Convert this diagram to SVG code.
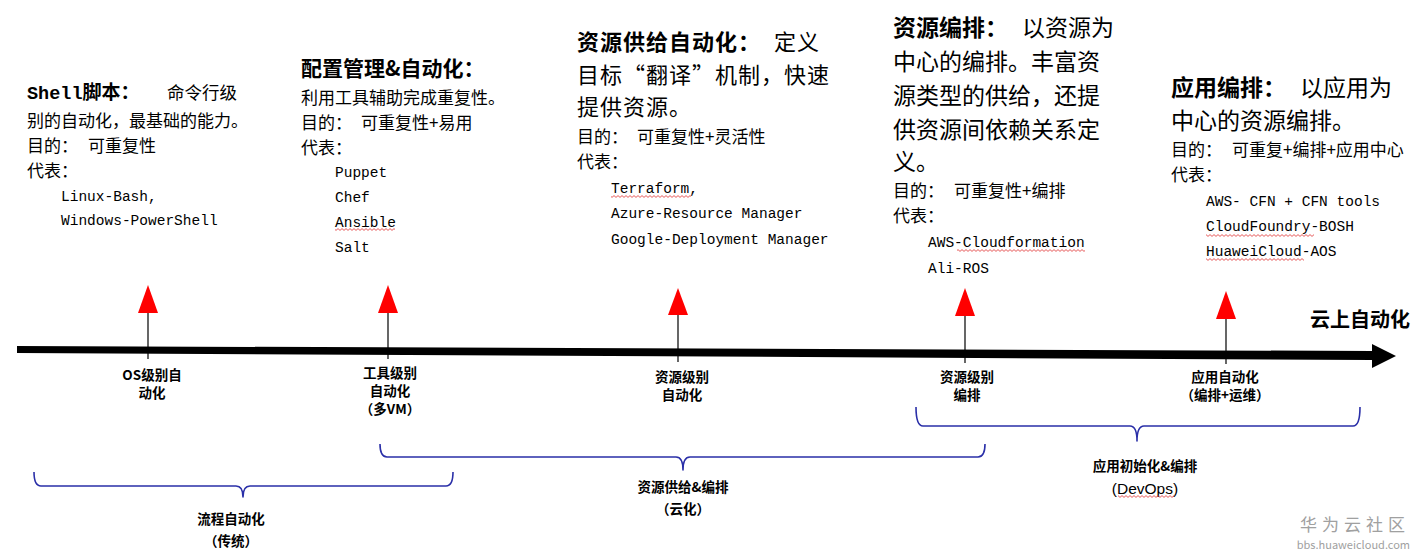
<svg xmlns="http://www.w3.org/2000/svg" width="1424" height="556" viewBox="0 0 1424 556">
<style>
.t{font-family:"Noto Sans CJK SC","Noto Sans",sans-serif;fill:#000}
.b{font-size:17px}
.big{font-size:23px}
.h{font-weight:bold}
.m{font-family:"Liberation Mono","DejaVu Sans Mono",monospace;font-size:14.5px;fill:#000}
.lab{font-family:"Noto Sans CJK SC","Noto Sans",sans-serif;font-size:13.5px;font-weight:bold;text-anchor:middle;fill:#000}
.stem{stroke:#000;stroke-width:1.2}
.tri{fill:#ff0000}
.brace{fill:none;stroke:#2a2fa8;stroke-width:1.6;stroke-linejoin:round}
.wm{font-family:"Noto Sans CJK SC","Noto Sans",sans-serif;fill:#a0a0a0;text-anchor:end}
</style>
<defs>
<pattern id="wave" patternUnits="userSpaceOnUse" width="4" height="3">
<path d="M0,2.4 L2,0.6 L4,2.4" fill="none" stroke="#e03030" stroke-width="0.8"/>
</pattern>
</defs>
<rect width="1424" height="556" fill="#fff"/>

<g id="timeline">
<polygon points="17,346 1372,351 1372,344 1396,356 1372,368 1372,360 17,353" fill="#000"/>
<text class="t h" x="1310" y="327" font-size="20">云上自动化</text>
</g>

<g id="connectors">
<line class="stem" x1="148" y1="312" x2="148" y2="359"/>
<polygon class="tri" points="148,285 138,313 158,313"/>
<line class="stem" x1="388" y1="312" x2="388" y2="359"/>
<polygon class="tri" points="388,285 378,313 398,313"/>
<line class="stem" x1="678" y1="314" x2="678" y2="362"/>
<polygon class="tri" points="678,288 668,315 688,315"/>
<line class="stem" x1="965" y1="315" x2="965" y2="363"/>
<polygon class="tri" points="965,288 955,316 975,316"/>
<line class="stem" x1="1226" y1="317" x2="1226" y2="364"/>
<polygon class="tri" points="1226,291 1216,319 1236,319"/>
</g>

<g id="stage1">
<text class="t h" x="27" y="99"><tspan font-family="Liberation Mono,monospace" font-size="18.5">Shell</tspan><tspan font-size="19">脚本：</tspan></text>
<text class="t" x="167" y="99" font-size="17.5">命令行级</text>
<text class="t b" x="27" y="127">别的自动化，最基础的能力。</text>
<text class="t b" x="27" y="152">目的：<tspan x="88">可重复性</tspan></text>
<text class="t b" x="27" y="177">代表：</text>
<text class="m" x="61" y="201">Linux-Bash,</text>
<text class="m" x="61" y="225">Windows-PowerShell</text>
<text class="lab" x="152" y="380">OS级别自</text>
<text class="lab" x="152" y="398">动化</text>
</g>

<g id="stage2">
<text class="t h" x="301" y="76" font-size="21">配置管理&amp;自动化：</text>
<text class="t b" x="301" y="104">利用工具辅助完成重复性。</text>
<text class="t b" x="301" y="129">目的：<tspan x="361">可重复性+易用</tspan></text>
<text class="t b" x="301" y="154">代表：</text>
<text class="m" x="335" y="177">Puppet</text>
<text class="m" x="335" y="202">Chef</text>
<text class="m" x="335" y="227">Ansible</text>
<text class="m" x="335" y="252">Salt</text>
<rect x="335" y="228" width="60" height="3" fill="url(#wave)"/>
<text class="lab" x="390" y="378">工具级别</text>
<text class="lab" x="390" y="396">自动化</text>
<text class="lab" x="390" y="414">（多VM）</text>
</g>

<g id="stage3">
<text class="t" x="577" y="50" font-size="22" letter-spacing="1"><tspan class="h">资源供给自动化：</tspan><tspan x="774">定义</tspan></text>
<text class="t" x="577" y="83" font-size="22" letter-spacing="1">目标“翻译”机制，快速</text>
<text class="t" x="577" y="115" font-size="22" letter-spacing="1">提供资源。</text>
<text class="t b" x="577" y="143">目的：<tspan x="637">可重复性+灵活性</tspan></text>
<text class="t b" x="577" y="168">代表：</text>
<text class="m" x="611" y="193">Terraform,</text>
<text class="m" x="611" y="218">Azure-Resource Manager</text>
<text class="m" x="611" y="244">Google-Deployment Manager</text>
<rect x="611" y="195" width="80" height="3" fill="url(#wave)"/>
<text class="lab" x="682" y="382">资源级别</text>
<text class="lab" x="682" y="400">自动化</text>
</g>

<g id="stage4">
<text class="t big" x="893" y="36"><tspan class="h">资源编排：</tspan><tspan x="1022">以资源为</tspan></text>
<text class="t big" x="893" y="70">中心的编排。丰富资</text>
<text class="t big" x="893" y="104">源类型的供给，还提</text>
<text class="t big" x="893" y="138">供资源间依赖关系定</text>
<text class="t big" x="893" y="170">义。</text>
<text class="t b" x="893" y="197">目的：<tspan x="954">可重复性+编排</tspan></text>
<text class="t b" x="893" y="222">代表：</text>
<text class="m" x="928" y="247">AWS-Cloudformation</text>
<text class="m" x="928" y="273">Ali-ROS</text>
<rect x="957" y="249" width="128" height="3" fill="url(#wave)"/>
<text class="lab" x="967" y="382">资源级别</text>
<text class="lab" x="967" y="400">编排</text>
</g>

<g id="stage5">
<text class="t big" x="1171" y="96"><tspan class="h">应用编排：</tspan><tspan x="1300">以应用为</tspan></text>
<text class="t big" x="1171" y="129">中心的资源编排。</text>
<text class="t b" x="1171" y="156">目的：<tspan x="1232">可重复+编排+应用中心</tspan></text>
<text class="t b" x="1171" y="181">代表：</text>
<text class="m" x="1206" y="206">AWS- CFN + CFN tools</text>
<text class="m" x="1206" y="231">CloudFoundry-BOSH</text>
<text class="m" x="1206" y="256">HuaweiCloud-AOS</text>
<rect x="1206" y="234" width="108" height="3" fill="url(#wave)"/>
<rect x="1206" y="258" width="98" height="3" fill="url(#wave)"/>
<text class="lab" x="1225" y="382">应用自动化</text>
<text class="lab" x="1225" y="400">（编排+运维）</text>
</g>

<g id="phase-traditional">
<path class="brace" d="M34,472 Q34,486 41,486 L236,486 Q243,486 243,497 Q243,486 250,486 L446,486 Q453,486 453,472"/>
<text class="lab" x="231" y="524" font-size="14">流程自动化</text>
<text class="lab" x="231" y="546" font-size="14">（传统）</text>
</g>

<g id="phase-cloud">
<path class="brace" d="M380,444 Q380,457 387,457 L676,457 Q683,457 683,470 Q683,457 690,457 L978,457 Q985,457 985,444"/>
<text class="lab" x="683" y="492" font-size="14">资源供给&amp;编排</text>
<text class="lab" x="683" y="514" font-size="14">（云化）</text>
</g>

<g id="phase-devops">
<path class="brace" d="M916,407 Q916,426 923,426 L1130,426 Q1137,426 1137,441 Q1137,426 1144,426 L1353,426 Q1360,426 1360,407"/>
<text class="lab" x="1145" y="471" font-size="14">应用初始化&amp;编排</text>
<text x="1145" y="494" font-family="Liberation Sans,Arial,sans-serif" font-size="15.5" text-anchor="middle" fill="#000">(DevOps)</text>
<rect x="1118" y="495" width="56" height="3" fill="url(#wave)"/>
</g>

<g id="watermark">
<text class="wm" x="1410" y="531" font-size="17" letter-spacing="5">华为云社区</text>
<text class="wm" x="1410" y="549" font-size="11">bbs.huaweicloud.com</text>
</g>
</svg>
